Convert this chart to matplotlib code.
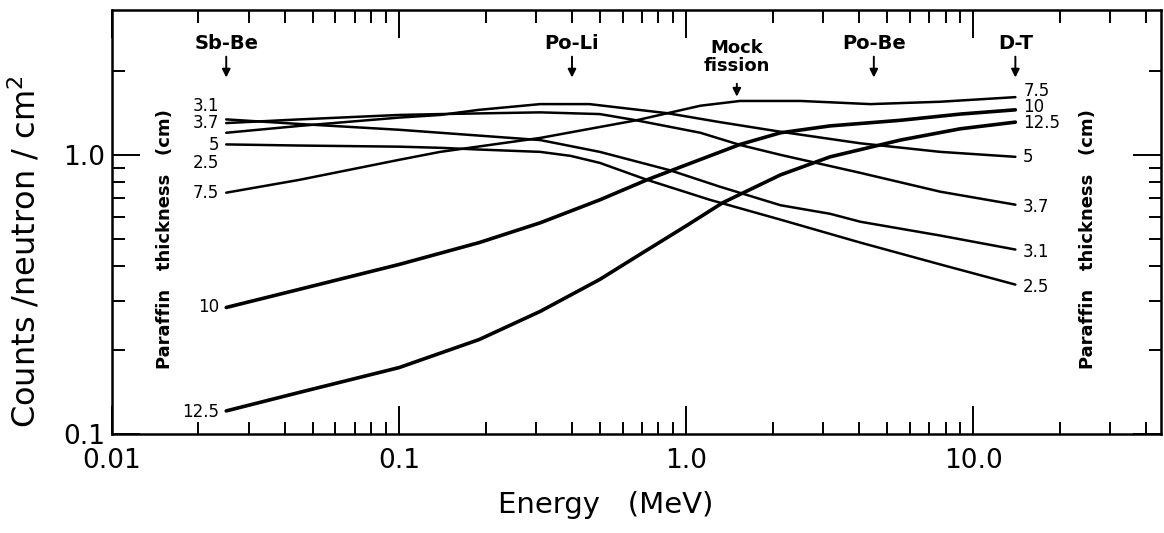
import matplotlib.pyplot as plt
from matplotlib.ticker import FixedLocator, FixedFormatter, NullFormatter

# paraffin thickness (cm) -> detector response
# energies in MeV, counts/neutron/cm^2
e_25 = [0.025, 0.045, 0.1, 0.139, 0.19, 0.31, 0.395, 0.50, 0.73, 1.21, 2.13, 4.04, 7.67, 14.0]
c_25 = [1.09, 1.08, 1.07, 1.06, 1.045, 1.025, 0.992, 0.936, 0.814, 0.69, 0.586, 0.485, 0.405, 0.343]

e_31 = [0.025, 0.045, 0.1, 0.139, 0.31, 0.50, 0.88, 1.31, 2.13, 3.17, 4.04, 7.67, 14.0]
c_31 = [1.34, 1.29, 1.23, 1.20, 1.13, 1.025, 0.88, 0.769, 0.66, 0.615, 0.576, 0.514, 0.458]

e_37 = [0.025, 0.045, 0.1, 0.139, 0.31, 0.50, 0.67, 1.12, 1.54, 2.13, 4.04, 7.67, 14.0]
c_37 = [1.30, 1.34, 1.39, 1.40, 1.42, 1.40, 1.33, 1.20, 1.085, 1.0, 0.862, 0.738, 0.663]

e_5 = [0.025, 0.045, 0.1, 0.139, 0.19, 0.31, 0.46, 0.86, 1.31, 2.13, 4.04, 7.67, 14.0]
c_5 = [1.20, 1.27, 1.36, 1.39, 1.45, 1.52, 1.52, 1.41, 1.31, 1.21, 1.10, 1.025, 0.984]

e_75 = [0.025, 0.045, 0.1, 0.139, 0.31, 0.67, 0.86, 1.12, 1.54, 2.5, 4.38, 7.67, 14.0]
c_75 = [0.732, 0.814, 0.96, 1.025, 1.15, 1.33, 1.41, 1.50, 1.56, 1.56, 1.52, 1.55, 1.61]

e_10 = [0.025, 0.045, 0.1, 0.19, 0.31, 0.50, 0.73, 1.0, 1.54, 2.13, 3.17, 5.57, 9.0, 14.0]
c_10 = [0.284, 0.33, 0.405, 0.485, 0.571, 0.69, 0.814, 0.921, 1.09, 1.20, 1.27, 1.33, 1.40, 1.45]

e_125 = [0.025, 0.045, 0.1, 0.19, 0.31, 0.50, 0.69, 1.0, 1.34, 2.13, 3.17, 5.57, 9.0, 14.0]
c_125 = [0.121, 0.141, 0.173, 0.218, 0.275, 0.358, 0.44, 0.557, 0.674, 0.848, 0.984, 1.13, 1.24, 1.31]

curves = [
    ("2.5", e_25, c_25, 1.8),
    ("3.1", e_31, c_31, 1.8),
    ("3.7", e_37, c_37, 1.8),
    ("5", e_5, c_5, 1.8),
    ("7.5", e_75, c_75, 1.8),
    ("10", e_10, c_10, 2.6),
    ("12.5", e_125, c_125, 2.6),
]

# where the thickness labels sit at both ends
left_lab = {"3.1": 1.50, "3.7": 1.30, "5": 1.085, "2.5": 0.936, "7.5": 0.73, "10": 0.284, "12.5": 0.12}
right_lab = {"7.5": 1.69, "10": 1.48, "12.5": 1.30, "5": 0.984, "3.7": 0.652, "3.1": 0.447, "2.5": 0.335}

# neutron sources marked along the top
sources = ["Sb-Be", "Po-Li", "Mock\nfission", "Po-Be", "D-T"]
source_e = [0.025, 0.4, 1.5, 4.5, 14.0]

x_ticks = [0.01, 0.1, 1.0, 10.0]
x_labels = ["0.01", "0.1", "1.0", "10.0"]
y_ticks = [0.1, 1.0]
y_labels = ["0.1", "1.0"]

fig = plt.figure(figsize=(11.64, 5.33), dpi=100)
ax = fig.add_axes([0.0962, 0.1857, 0.9012, 0.7953])

for name, e, c, lw in curves:
    ax.plot(e, c, color="black", lw=lw, solid_capstyle="round")

ax.set_xscale("log")
ax.set_yscale("log")
ax.set_xlim(0.01, 45)
ax.set_ylim(0.1, 3.3)

for name, v in left_lab.items():
    ax.text(0.0236, v, name, ha="right", va="center", fontsize=12)
for name, v in right_lab.items():
    ax.text(14.9, v, name, ha="left", va="center", fontsize=12)

for name, e in zip(sources, source_e):
    if "\n" in name:
        ax.text(e, 2.25, name, ha="center", va="center", fontsize=13,
                fontweight="bold", linespacing=1.0)
        tail, tip = 1.84, 1.58
    else:
        ax.text(e, 2.5, name, ha="center", va="center", fontsize=14, fontweight="bold")
        tail, tip = 2.3, 1.85
    ax.annotate("", xy=(e, tip), xytext=(e, tail),
                arrowprops=dict(arrowstyle="-|>", color="black", lw=1.4, mutation_scale=12))

ax.text(0.0153, 0.50, "Paraffin   thickness   (cm)", rotation=90, ha="center", va="center",
        fontsize=13, fontweight="bold")
ax.text(25.0, 0.50, "Paraffin   thickness   (cm)", rotation=90, ha="center", va="center",
        fontsize=13, fontweight="bold")

ax.xaxis.set_major_locator(FixedLocator(x_ticks))
ax.xaxis.set_major_formatter(FixedFormatter(x_labels))
ax.xaxis.set_minor_locator(FixedLocator(
    [m * d for d in (0.01, 0.1, 1.0, 10.0) for m in range(2, 10) if m * d < 45]))
ax.xaxis.set_minor_formatter(NullFormatter())
ax.yaxis.set_major_locator(FixedLocator(y_ticks))
ax.yaxis.set_major_formatter(FixedFormatter(y_labels))
ax.yaxis.set_minor_locator(FixedLocator([m * 0.1 for m in range(2, 10)] + [2.0]))
ax.yaxis.set_minor_formatter(NullFormatter())

ax.tick_params(which="both", direction="in", top=True, right=True, width=1.4)
ax.tick_params(which="major", length=20, labelsize=19)
ax.tick_params(which="minor", length=9)
ax.tick_params(axis="x", which="major", pad=10)
ax.tick_params(axis="y", which="major", pad=5)
for sp in ax.spines.values():
    sp.set_linewidth(1.8)

ax.set_xlabel("Energy   (MeV)", fontsize=21)
ax.set_ylabel("Counts /neutron / cm$^2$", fontsize=23)
ax.xaxis.set_label_coords(0.471, -0.135)
ax.yaxis.set_label_coords(-0.066, 0.43)

fig.savefig("out.png", dpi=100)
